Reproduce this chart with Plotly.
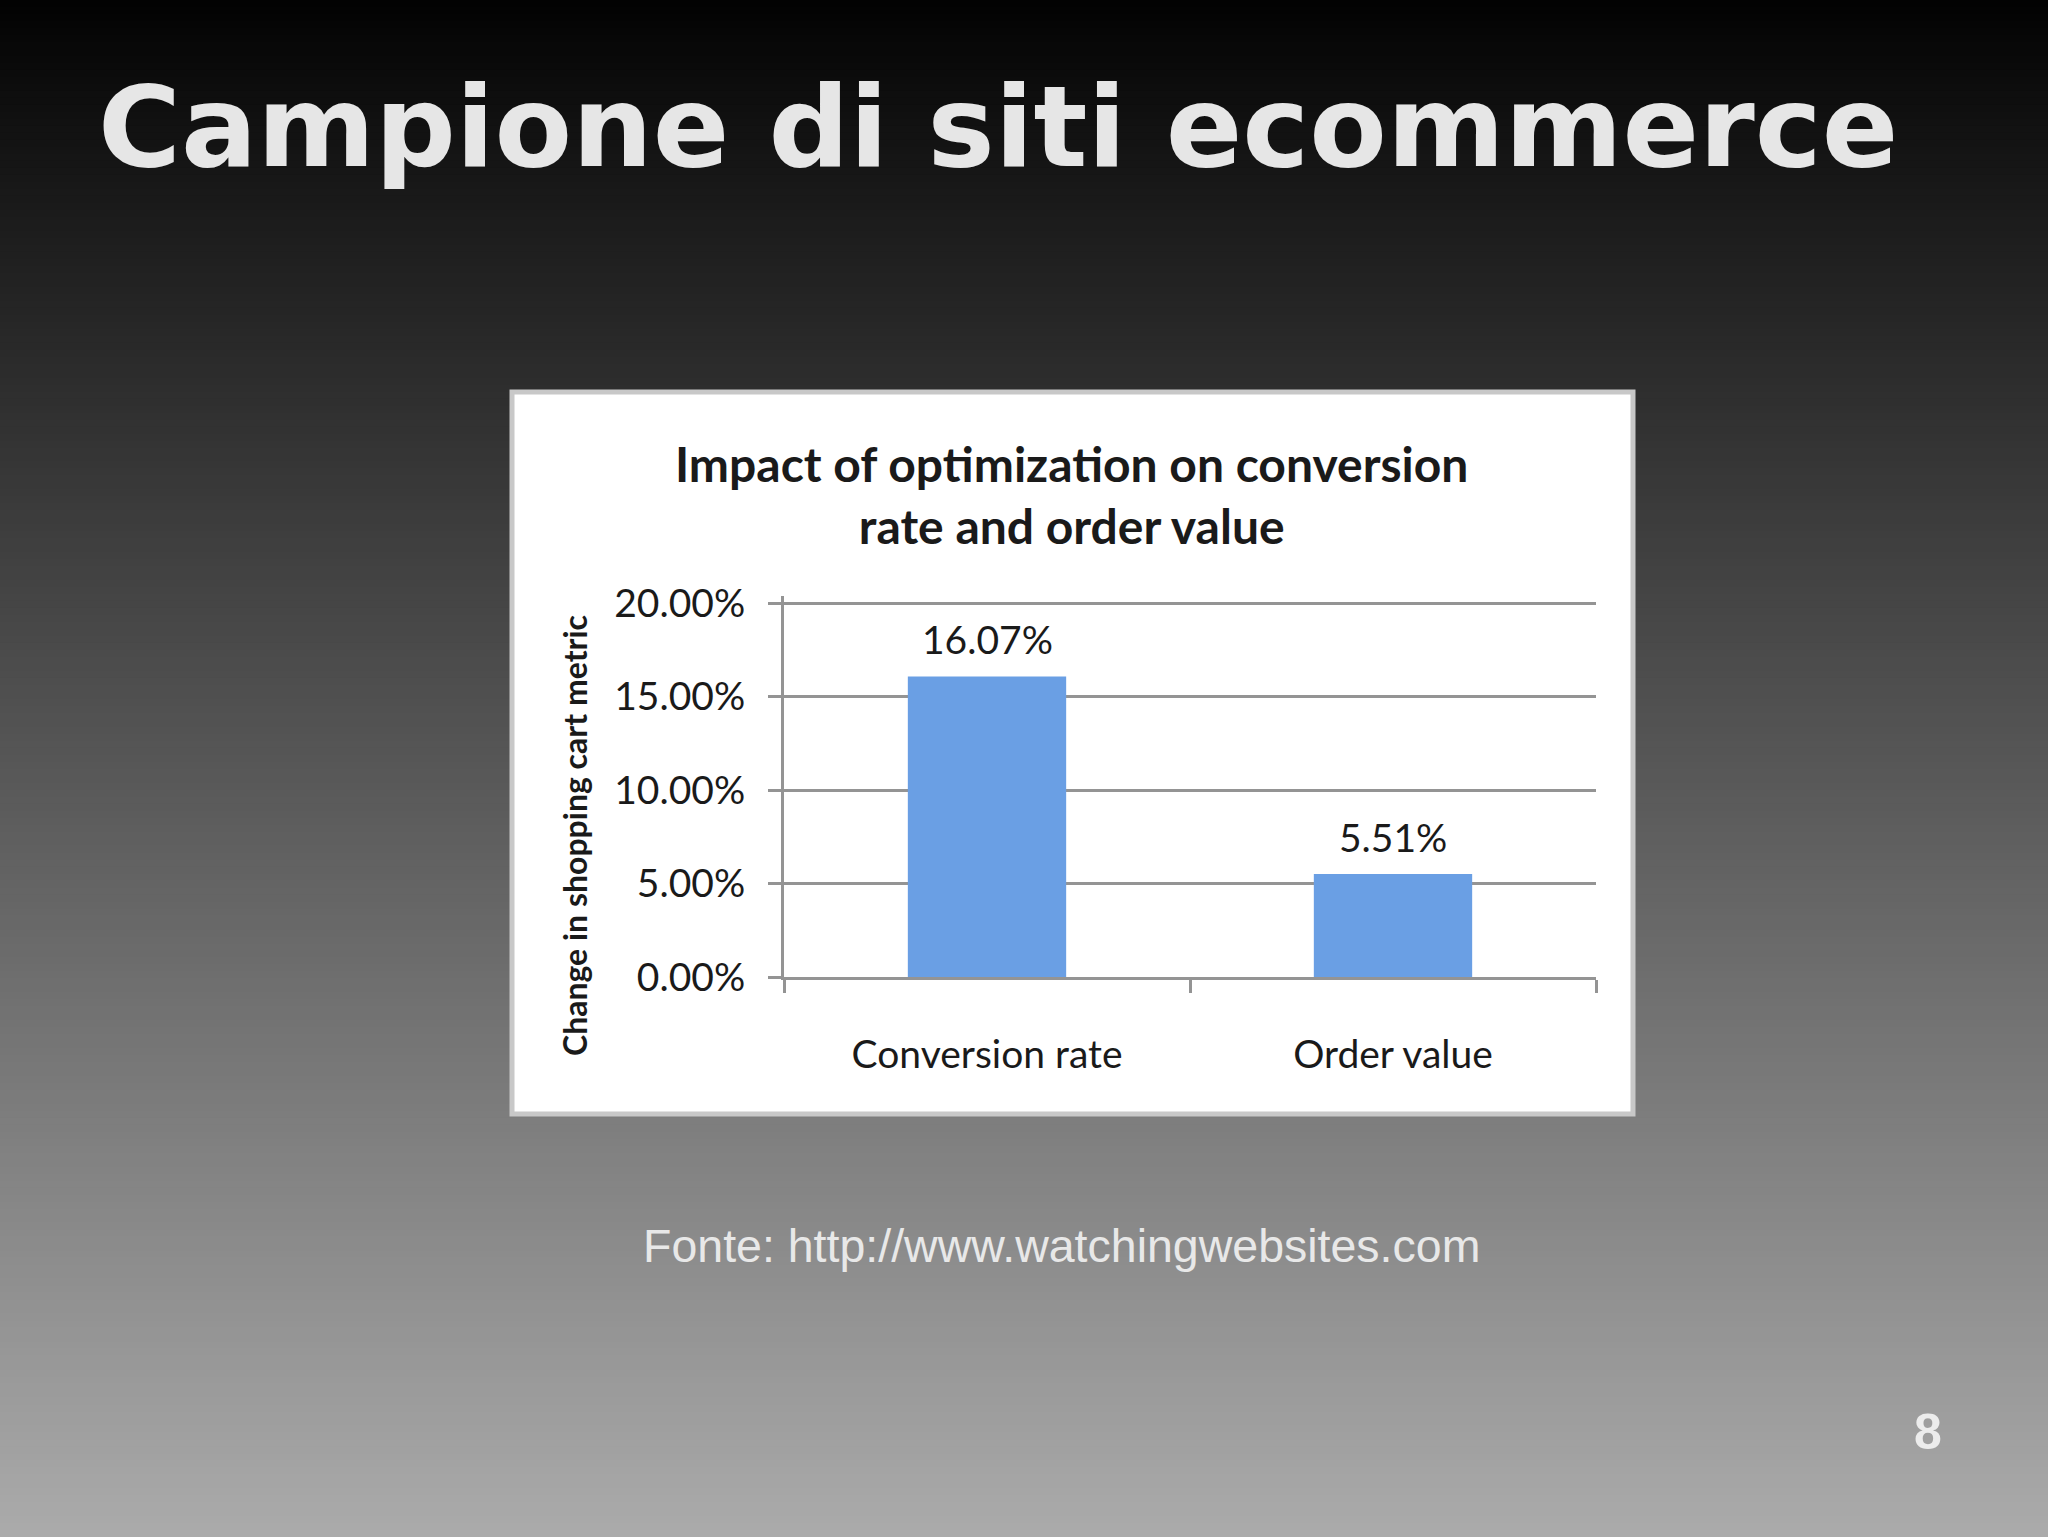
import plotly.graph_objects as go

W, H = 2048, 1537

# ---- data ----
categories = ["Conversion rate", "Order value"]
values = [0.1607, 0.0551]
y_ticks = [0.0, 0.05, 0.10, 0.15, 0.20]
y_max = 0.20

slide_title = "Campione di siti ecommerce"
chart_title = "Impact of optimization on conversion<br>rate and order value"
y_title = "Change in shopping cart metric"
source_text = "Fonte: http://www.watchingwebsites.com"
page_number = "8"

def px_x(x):
    return x / W

def px_y(y):
    return 1 - y / H

# background gradient stops (fraction from top, grey level)
stops = [(0.0, 2), (0.08, 17), (1.0, 171)]

def grey_at(t):
    for (t0, g0), (t1, g1) in zip(stops[:-1], stops[1:]):
        if t0 <= t <= t1:
            return g0 + (g1 - g0) * (t - t0) / (t1 - t0)
    return stops[-1][1]

shapes = []
n = 220
for i in range(n):
    t0, t1 = i / n, (i + 1) / n
    g = int(round(grey_at((t0 + t1) / 2)))
    shapes.append(dict(type="rect", xref="paper", yref="paper",
                       x0=-0.01, x1=1.01, y0=1 - t1 - 0.001, y1=1 - t0 + (0.01 if i == 0 else 0),
                       fillcolor=f"rgb({g},{g},{g})", line=dict(width=0),
                       layer="below"))
# white chart card
shapes.append(dict(type="rect", xref="paper", yref="paper",
                   x0=px_x(512), x1=px_x(1633), y0=px_y(1114), y1=px_y(392),
                   fillcolor="white", line=dict(color="#c8c8c8", width=5),
                   layer="below"))

fig = go.Figure()
fig.add_trace(go.Bar(
    x=categories, y=values, width=0.39,
    marker=dict(color="#6a9fe4", line=dict(width=0)),
    hoverinfo="skip",
))

label_font = dict(family="Lato", size=39, color="#1a1a1a")
grid_col = "#949494"
top_px = 603
bottom_px = 977
pad_frac = 0.02
fig.update_layout(
    width=W, height=H,
    margin=dict(l=0, r=0, t=0, b=0, autoexpand=False),
    paper_bgcolor="#555555",
    plot_bgcolor="white",
    showlegend=False,
    shapes=shapes,
    xaxis=dict(domain=[px_x(784), px_x(1596)], automargin=False,
               showline=True, linecolor=grid_col, linewidth=3,
               ticks="outside", tickson="boundaries", ticklen=13,
               tickcolor=grid_col, tickwidth=3,
               showgrid=False,
               tickfont=label_font,
               ticklabelstandoff=41),
    yaxis=dict(domain=[px_y(bottom_px), px_y(top_px) + pad_frac * (px_y(top_px) - px_y(bottom_px))],
               automargin=False,
               range=[0, y_max * (1 + pad_frac)], tickvals=y_ticks, tickformat=".2%",
               showline=True, linecolor=grid_col, linewidth=3,
               ticks="outside", ticklen=13, tickcolor=grid_col, tickwidth=3,
               showgrid=True, gridcolor=grid_col, gridwidth=3,
               zeroline=False,
               tickfont=label_font,
               ticklabelstandoff=15),
    bargap=0.6,
)

annotations = [
    dict(text=slide_title, x=px_x(96), y=px_y(127), xanchor="left", yanchor="middle",
         font=dict(family="DejaVu Sans", size=113, color="#e6e6e6", weight="bold")),
    dict(text=chart_title, x=px_x(1071), y=px_y(494), xanchor="center", yanchor="middle",
         font=dict(family="Lato", size=48, color="#1a1a1a", weight="bold")),
    dict(text=y_title, x=px_x(575), y=px_y(836), xanchor="center", yanchor="middle",
         textangle=-90,
         font=dict(family="Lato", size=32, color="#1a1a1a", weight="bold")),
    dict(text=source_text, x=px_x(1061), y=px_y(1246), xanchor="center", yanchor="middle",
         font=dict(family="Liberation Sans", size=46.5, color="#e8e8e8")),
    dict(text=page_number, x=px_x(1928), y=px_y(1432), xanchor="center", yanchor="middle",
         font=dict(family="Liberation Sans", size=50, color="#ececec", weight="bold")),
]
for a in annotations:
    a.update(xref="paper", yref="paper", showarrow=False)

# value labels above the bars, placed through the data axes
for c, v in zip(categories, values):
    annotations.append(dict(x=c, y=v, xref="x", yref="y", text=f"{v:.2%}",
                            showarrow=False, yanchor="bottom", yshift=12,
                            font=label_font))
fig.update_layout(annotations=annotations)

fig.write_html("out.html",
               config={"displayModeBar": False},
               post_script="document.body.style.margin='0px';document.body.style.overflow='hidden';")
